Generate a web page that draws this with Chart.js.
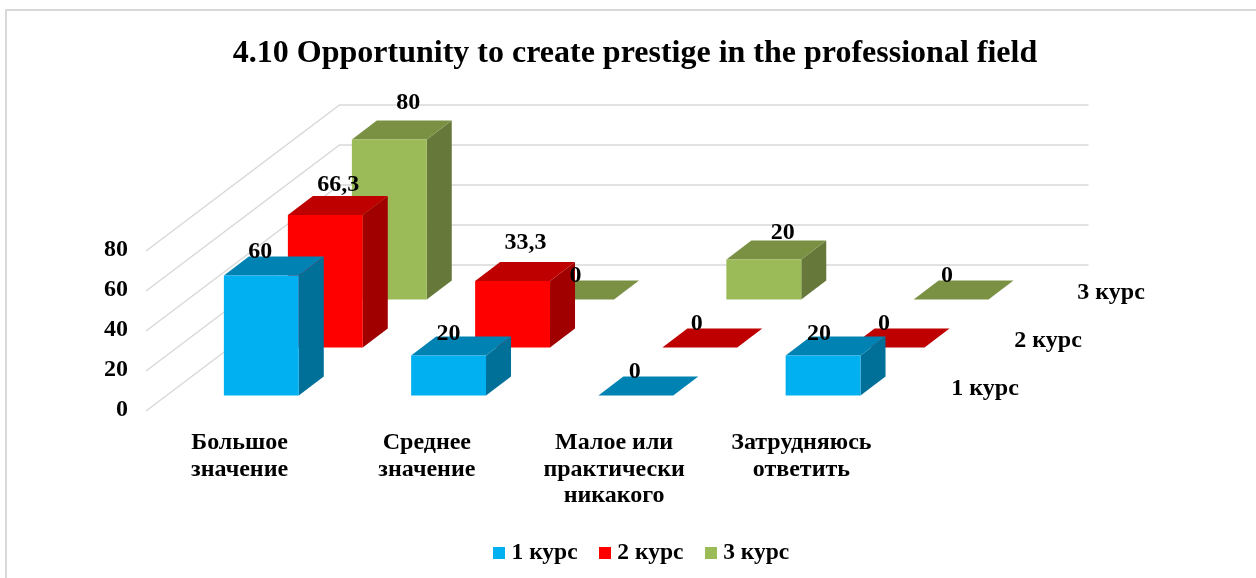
<!DOCTYPE html>
<html>
<head>
<meta charset="utf-8">
<title>Opportunity to create prestige</title>
<script src="https://cdn.jsdelivr.net/npm/chart.js@4/dist/chart.umd.min.js"></script>
<style>
  html, body { margin: 0; padding: 0; background: #fff; overflow: hidden; }
  canvas { display: block; }
</style>
</head>
<body>
<canvas id="chart" width="1256" height="578"></canvas>
<script>
const titleText = '4.10 Opportunity to create prestige in the professional field';
const categories = [
  ['Большое', 'значение'],
  ['Среднее', 'значение'],
  ['Малое или', 'практически', 'никакого'],
  ['Затрудняюсь', 'ответить']
];
const seriesNames = ['1 курс', '2 курс', '3 курс'];
const course1 = [60, 20, 0, 20];
const course2 = [66.3, 33.3, 0, 0];
const course3 = [80, 0, 20, 0];
const yTicks = [0, 20, 40, 60, 80];

// front, top, side
const palette = [
  ['#00B0F0', '#0083B3', '#007099'],
  ['#FF0000', '#BE0000', '#A00000'],
  ['#9BBB59', '#7A9144', '#67793A']
];

const serif = 'Liberation Serif';
const labelFont = 'bold 24px "' + serif + '"';

// fake 3d: how far each row of bars sits behind the axis plane
const rowDx = 64, rowDy = 48, frontDx = 17.7, frontDy = 14.5;
const sideDx = 25, sideDy = 19;
const wallDx = 189.5, wallDy = 145;

// excel moved the data labels by hand, row,category: [dx, dy]
const labelNudge = {
  '2,0': [20, -13],
  '1,0': [14, -6],
  '1,1': [14, -14],
  '2,2': [20, -3],
  '0,1': [1, 2],
  '0,3': [-3, 2],
  '1,2': [-2, 0],
  '1,3': [-2, 0],
  '2,3': [-3, 0]
};

function rowOffset(i) {
  return { x: frontDx + i * rowDx, y: -frontDy - i * rowDy };
}

function poly(ctx, pts, color) {
  ctx.fillStyle = color;
  ctx.beginPath();
  pts.forEach((p, n) => n ? ctx.lineTo(p[0], p[1]) : ctx.moveTo(p[0], p[1]));
  ctx.closePath();
  ctx.fill();
}

const frame = {
  id: 'frame',
  afterLayout(chart) {
    // legend sits a little right of the title in the original
    chart.legend.left += 18;
  },
  beforeDraw(chart) {
    const ctx = chart.ctx;
    ctx.save();
    ctx.strokeStyle = '#D9D9D9';
    ctx.lineWidth = 2;
    ctx.beginPath();
    ctx.moveTo(6, chart.height);
    ctx.lineTo(6, 10);
    ctx.lineTo(chart.width, 10);
    ctx.stroke();
    ctx.restore();
  }
};

const walls = {
  id: 'walls',
  beforeDatasetsDraw(chart) {
    const { ctx, chartArea, scales } = chart;
    ctx.save();
    ctx.strokeStyle = '#D9D9D9';
    ctx.lineWidth = 1.5;
    yTicks.forEach((v) => {
      const y = scales.y.getPixelForValue(v);
      ctx.beginPath();
      ctx.moveTo(chartArea.left - 4, y + 1);
      ctx.lineTo(chartArea.left + wallDx, y - wallDy);
      ctx.lineTo(chartArea.right + wallDx, y - wallDy);
      ctx.stroke();
    });
    ctx.restore();
  }
};

const bars3d = {
  id: 'bars3d',
  beforeDatasetDraw(chart, args) {
    const ctx = chart.ctx;
    const off = rowOffset(args.index);
    const colors = palette[args.index];
    ctx.save();
    ctx.translate(off.x, off.y);
    args.meta.data.forEach((bar) => {
      const l = bar.x - bar.width / 2, r = bar.x + bar.width / 2;
      const t = bar.y, b = bar.base;
      if (b > t) {
        poly(ctx, [[r, t], [r + sideDx, t - sideDy], [r + sideDx, b - sideDy], [r, b]], colors[2]);
      }
      poly(ctx, [[l, t], [l + sideDx, t - sideDy], [r + sideDx, t - sideDy], [r, t]], colors[1]);
    });
  },
  afterDatasetDraw(chart) {
    chart.ctx.restore();
  },
  afterDatasetsDraw(chart) {
    const ctx = chart.ctx;
    ctx.save();
    ctx.font = labelFont;
    ctx.fillStyle = '#000';
    ctx.textBaseline = 'middle';
    chart.data.datasets.forEach((ds, i) => {
      const off = rowOffset(i);
      ctx.textAlign = 'center';
      chart.getDatasetMeta(i).data.forEach((bar, j) => {
        const nudge = labelNudge[i + ',' + j] || [0, 0];
        const text = String(ds.data[j]).replace('.', ',');
        ctx.fillText(text, bar.x + off.x + nudge[0] - 1, bar.y + off.y - 24 + nudge[1]);
      });
      // series name at the end of each row
      ctx.textAlign = 'left';
      ctx.fillText(ds.label, chart.chartArea.right + 70 + i * 63 - frontDx, chart.scales.y.getPixelForValue(0) + off.y - 7);
    });
    ctx.restore();
  }
};

function swatch(color) {
  const c = document.createElement('canvas');
  c.width = 12;
  c.height = 12;
  const g = c.getContext('2d');
  g.fillStyle = color;
  g.fillRect(0, 0, 12, 12);
  return c;
}

const datasets = [course1, course2, course3].map((values, i) => ({
  label: seriesNames[i],
  data: values,
  backgroundColor: palette[i][0],
  borderWidth: 0,
  clip: false,
  barPercentage: 0.4,
  categoryPercentage: 1,
  grouped: false
}));

new Chart(document.getElementById('chart'), {
  type: 'bar',
  data: { labels: categories, datasets: datasets },
  plugins: [frame, walls, bars3d],
  options: {
    responsive: false,
    animation: false,
    layout: { autoPadding: false, padding: { left: 14, right: 0, top: 0, bottom: 3 } },
    plugins: {
      tooltip: { enabled: false },
      title: {
        display: true,
        text: titleText,
        color: '#000',
        font: { family: serif, size: 32, weight: 'bold', lineHeight: 1.2 },
        padding: { top: 35, bottom: 176.6 }
      },
      legend: {
        position: 'bottom',
        labels: {
          color: '#000',
          font: { family: serif, size: 23.5, weight: 'bold' },
          usePointStyle: true,
          pointStyleWidth: 1,
          padding: 27,
          generateLabels: (chart) => chart.data.datasets.map((ds, i) => ({
            text: ds.label,
            fontColor: '#000',
            pointStyle: swatch(palette[i][0]),
            lineWidth: 0,
            datasetIndex: i
          }))
        }
      }
    },
    scales: {
      x: {
        grid: { display: false },
        border: { display: false },
        afterFit(s) { s.height = 104.5; },
        ticks: {
          color: '#000',
          font: { family: serif, size: 24, weight: 'bold', lineHeight: 1.12 },
          maxRotation: 0,
          autoSkip: false,
          padding: 11,
          labelOffset: -4
        }
      },
      y: {
        min: 0,
        max: 80,
        grid: { display: false },
        border: { display: false },
        afterFit(s) { s.width = 136; },
        ticks: {
          color: '#000',
          font: { family: serif, size: 24, weight: 'bold' },
          stepSize: 20,
          padding: 14
        }
      },
      // empty axis, only keeps room for the row names on the right
      depth: {
        position: 'right',
        grid: { display: false },
        border: { display: false },
        ticks: { display: false },
        afterFit(s) { s.width = 357; }
      }
    }
  }
});
</script>
</body>
</html>
